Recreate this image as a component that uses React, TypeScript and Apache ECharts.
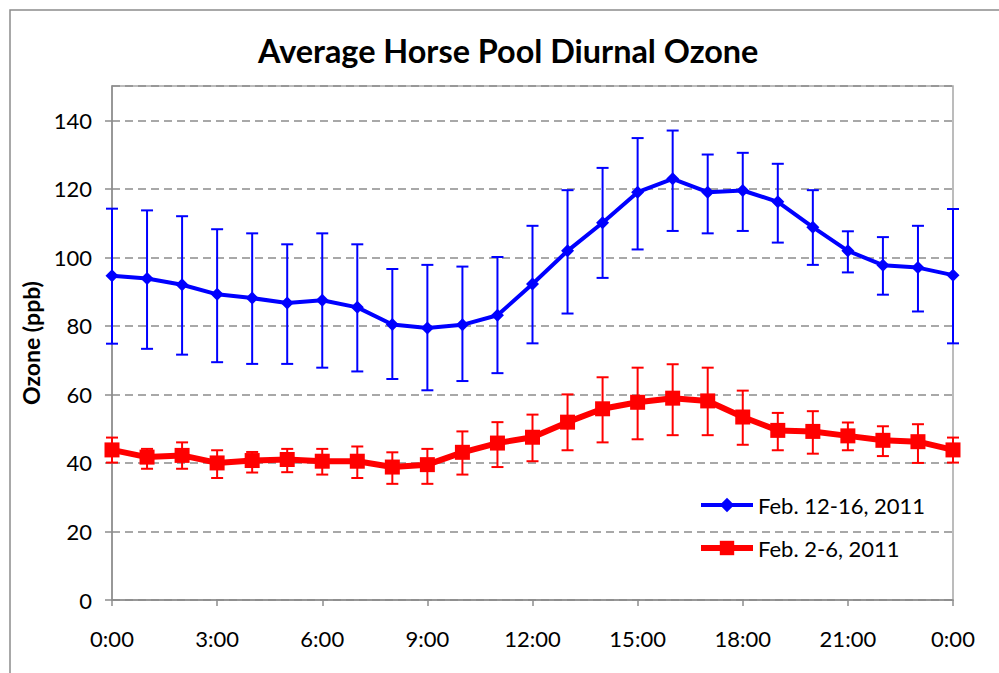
import React, { useEffect, useRef } from 'react';
import * as echarts from 'echarts';

const hours = [0, 1, 2, 3, 4, 5, 6, 7, 8, 9, 10, 11, 12, 13, 14, 15, 16, 17, 18, 19, 20, 21, 22, 23, 24];
const xTickLabels = ['0:00', '3:00', '6:00', '9:00', '12:00', '15:00', '18:00', '21:00', '0:00'];

const blueName = 'Feb. 12-16, 2011';
const redName = 'Feb. 2-6, 2011';

const blueMean = [94.6, 93.8, 92.0, 89.2, 88.1, 86.7, 87.5, 85.4, 80.4, 79.4, 80.3, 83.1, 92.2, 101.9, 110.1, 119.0, 122.9, 119.0, 119.5, 116.2, 108.8, 101.9, 97.7, 97.0, 94.8];
const blueHigh = [114.2, 113.7, 112.0, 108.2, 107.0, 103.8, 107.0, 103.8, 96.6, 97.8, 97.3, 100.1, 109.2, 119.6, 126.1, 134.8, 137.0, 130.0, 130.5, 127.3, 119.6, 107.6, 105.9, 109.2, 114.1];
const blueLow = [74.8, 73.3, 71.6, 69.4, 68.9, 68.9, 67.8, 66.7, 64.5, 61.2, 63.9, 66.2, 74.9, 83.6, 94.0, 102.3, 107.7, 107.0, 107.7, 104.3, 97.8, 95.6, 89.1, 84.2, 74.9];

const redMean = [43.8, 41.7, 42.2, 40.0, 40.7, 41.0, 40.5, 40.5, 38.8, 39.5, 43.1, 45.8, 47.5, 51.9, 55.8, 57.7, 58.9, 58.1, 53.4, 49.5, 49.2, 47.9, 46.6, 46.2, 43.8];
const redHigh = [47.4, 44.1, 46.0, 43.7, 43.2, 44.1, 44.1, 44.8, 43.1, 44.1, 49.2, 51.9, 54.1, 60.0, 65.0, 67.8, 68.8, 67.8, 61.1, 54.6, 55.1, 51.8, 50.7, 51.3, 47.4];
const redLow = [40.1, 38.3, 38.3, 35.6, 37.2, 37.3, 36.6, 35.6, 33.9, 33.9, 36.6, 38.8, 40.5, 43.7, 46.0, 46.9, 48.1, 48.1, 45.3, 43.7, 42.7, 43.7, 42.0, 40.0, 40.1];

const FONT = 'Lato, "Open Sans", sans-serif';

function errorSeries(name: string, low: number[], high: number[], color: string) {
  return {
    type: 'custom',
    name: name + ' error',
    z: 3,
    silent: true,
    encode: { x: 0, y: [1, 2] },
    data: hours.map((h, i) => [h, low[i], high[i]]),
    renderItem: (params: any, api: any) => {
      const x = api.value(0);
      const lo = api.coord([x, api.value(1)]);
      const hi = api.coord([x, api.value(2)]);
      const hw = 6;
      const style = { stroke: color, lineWidth: 2 };
      return {
        type: 'group',
        children: [
          { type: 'line', shape: { x1: hi[0], y1: hi[1], x2: lo[0], y2: lo[1] }, style },
          { type: 'line', shape: { x1: hi[0] - hw, y1: hi[1], x2: hi[0] + hw, y2: hi[1] }, style },
          { type: 'line', shape: { x1: lo[0] - hw, y1: lo[1], x2: lo[0] + hw, y2: lo[1] }, style },
        ],
      };
    },
  };
}

export default function App() {
  const ref = useRef<HTMLDivElement>(null);
  useEffect(() => {
    if (!ref.current) return;
    const chart = echarts.init(ref.current, undefined, { renderer: 'svg' });
    chart.setOption({
      animation: false,
      backgroundColor: '#ffffff',
      title: {
        text: 'Average Horse Pool Diurnal Ozone',
        left: 253,
        top: 29,
        textStyle: { fontFamily: FONT, fontSize: 32.4, fontWeight: 'bold', color: '#000' },
      },
      graphic: [
        {
          type: 'rect',
          silent: true,
          shape: { x: 10, y: 10, width: 1200, height: 900 },
          style: { fill: 'transparent', stroke: '#8c8c8c', lineWidth: 1.5 },
        },
      ],
      legend: {
        orient: 'vertical',
        left: 698,
        top: 494,
        itemWidth: 52,
        itemHeight: 18,
        itemGap: 21,
        padding: 0,
        data: [
          { name: blueName, lineStyle: { width: 4 } },
          { name: redName, lineStyle: { width: 6 } },
        ],
        textStyle: { fontFamily: FONT, fontSize: 22, color: '#000' },
      },
      grid: {
        left: 112,
        top: 86,
        right: 46,
        bottom: 73,
        show: true,
        borderColor: '#a6a6a6',
        borderWidth: 1.5,
      },
      xAxis: {
        type: 'value',
        min: 0,
        max: 24,
        interval: 3,
        axisLine: { lineStyle: { color: '#8c8c8c', width: 1.5 } },
        axisTick: { show: true, length: 6, lineStyle: { color: '#8c8c8c', width: 1.5 } },
        splitLine: { show: false },
        axisLabel: {
          margin: 27,
          fontFamily: FONT,
          fontSize: 22,
          color: '#000',
          formatter: (v: number) => xTickLabels[Math.round(v / 3)] ?? '',
        },
      },
      yAxis: {
        type: 'value',
        min: 0,
        max: 150,
        interval: 20,
        name: 'Ozone (ppb)',
        nameLocation: 'middle',
        nameGap: 69,
        nameTextStyle: { fontFamily: FONT, fontSize: 23, fontWeight: 'bold', color: '#000' },
        axisLine: { show: true, lineStyle: { color: '#8c8c8c', width: 1.5 } },
        axisTick: { show: true, length: 7, lineStyle: { color: '#8c8c8c', width: 1.5 } },
        splitLine: { show: true, lineStyle: { color: '#8c8c8c', width: 1.5, type: [8, 5] } },
        axisLabel: {
          margin: 20,
          fontFamily: FONT,
          fontSize: 22,
          color: '#000',
          showMaxLabel: false,
        },
      },
      series: [
        errorSeries(blueName, blueLow, blueHigh, '#0000ff'),
        errorSeries(redName, redLow, redHigh, '#ff0000'),
        {
          type: 'line',
          name: blueName,
          z: 4,
          data: hours.map((h, i) => [h, blueMean[i]]),
          symbol: 'diamond',
          symbolSize: 13,
          lineStyle: { color: '#0000ff', width: 4 },
          itemStyle: { color: '#0000ff' },
        },
        {
          type: 'line',
          name: redName,
          z: 4,
          data: hours.map((h, i) => [h, redMean[i]]),
          symbol: 'rect',
          symbolSize: 15,
          lineStyle: { color: '#ff0000', width: 6 },
          itemStyle: { color: '#ff0000' },
        },
      ],
    });
    return () => chart.dispose();
  }, []);
  return (
    <div
      ref={ref}
      style={{ position: 'absolute', left: 0, top: 0, width: 999, height: 673, background: '#fff' }}
    />
  );
}
